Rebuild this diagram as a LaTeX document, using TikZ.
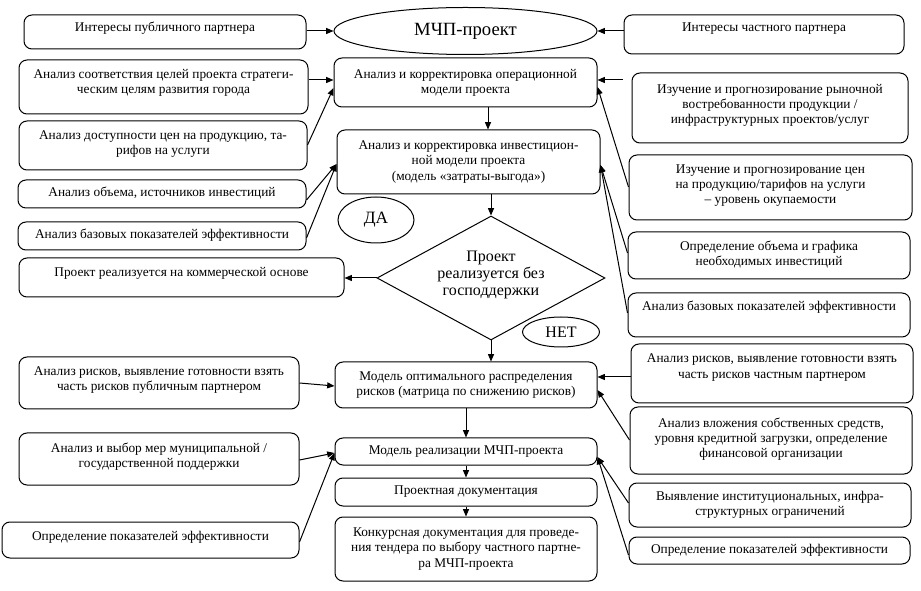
\documentclass[tikz,border=0pt]{standalone}
\usepackage{fontspec}
\setmainfont{Liberation Serif}
\usetikzlibrary{shapes.geometric,arrows.meta,calc}

\tikzset{
 bx/.style={draw, rounded corners=6pt, line width=0.75pt, inner sep=0pt},
 tx/.style={align=center, inner sep=0pt, font=\fontsize{10}{11.3}\selectfont},
 ar/.style={-{Triangle[length=5.5pt,width=4.5pt]}, line width=0.75pt},
 ov/.style={draw, ellipse, line width=0.75pt, inner sep=0pt},
}

\newcommand{\drawbox}[7]{%
 \pgfmathsetmacro\cx{(#2+#4)/2}%
 \pgfmathsetmacro\cy{(#3+#5)/2}%
 \pgfmathsetmacro\bw{(#4-#2)*0.75}%
 \pgfmathsetmacro\bh{(#5-#3)*0.75}%
 \node[bx, minimum width=\bw pt, minimum height=\bh pt] (#1) at (\cx,\cy) {};%
 \node[tx] (#1-t) at (\cx,{\cy+(#6)}) {#7};%
}

\begin{document}
\begin{tikzpicture}[x=0.75pt,y=-0.75pt]
\useasboundingbox (0,0) rectangle (921,591);

% left column
\drawbox{L0}{24}{15}{306}{49}{-4}{Интересы публичного партнера}
\drawbox{L1}{19}{60}{308}{114}{-4.5}{Анализ соответствия целей проекта стратеги-\\ческим целям развития города}
\drawbox{L2}{19}{121}{307}{170}{-1}{Анализ доступности цен на продукцию, та-\\рифов на услуги}
\drawbox{L3}{18}{180}{306}{208}{-1}{Анализ объема, источников инвестиций}
\drawbox{L4}{18}{222}{306}{250}{-1}{Анализ базовых показателей эффективности}
\drawbox{L5}{19}{258}{344}{297}{-4.5}{Проект реализуется на коммерческой основе}
\drawbox{L6}{19}{357}{299}{409}{-2.5}{Анализ рисков, выявление готовности взять\\часть рисков публичным партнером}
\drawbox{L7}{19}{433}{299}{485}{-2}{Анализ и выбор мер муниципальной /\\государственной поддержки}
\drawbox{L8}{2}{522}{299}{558}{-3}{Определение показателей эффективности}

% centre column
\node[ov, minimum width=263*0.75pt, minimum height=47*0.75pt, font=\fontsize{14}{16}\selectfont] (mchp) at (465.5,31) {МЧП-проект};
\drawbox{C1}{334}{58}{597}{107}{0}{Анализ и корректировка операционной\\модели проекта}
\drawbox{C2}{337}{130}{600}{194}{0}{Анализ и корректировка инвестицион-\\ной модели проекта\\(модель «затраты-выгода»)}
\node[ov, minimum width=76*0.75pt, minimum height=46*0.75pt, font=\fontsize{13}{15}\selectfont] (da) at (376,220) {ДА};
\node[draw, diamond, line width=0.75pt, inner sep=0pt, minimum width=228*0.75pt, minimum height=124*0.75pt] (dm) at (491,278) {};
\node[align=center, inner sep=0pt, font=\fontsize{12}{12.5}\selectfont] (dm-t) at (491,275) {Проект\\реализуется без\\господдержки};
\node[ov, minimum width=77*0.75pt, minimum height=30*0.75pt, font=\fontsize{12}{14}\selectfont] (net) at (561,332) {НЕТ};
\drawbox{C3}{335}{362}{597}{408}{0}{Модель оптимального распределения\\рисков (матрица по снижению рисков)}
\drawbox{C4}{335}{438}{597}{465}{0}{Модель реализации МЧП-проекта}
\drawbox{C5}{335}{478}{597}{506}{0}{Проектная документация}
\drawbox{C6}{335}{517}{597}{581}{0}{Конкурсная документация для проведе-\\ния тендера по выбору частного партне-\\ра МЧП-проекта}

% right column
\drawbox{R0}{624}{15}{904}{54}{-5.5}{Интересы частного партнера}
\drawbox{R1}{632}{73}{908}{143}{-3}{Изучение и прогнозирование рыночной\\востребованности продукции /\\инфраструктурных проектов/услуг}
\drawbox{R2}{629}{155}{912}{220}{-1.5}{Изучение и прогнозирование цен\\на продукцию/тарифов на услуги\\– уровень окупаемости}
\drawbox{R3}{628}{232}{910}{279}{-1}{Определение объема и графика\\необходимых инвестиций}
\drawbox{R4}{628}{293}{910}{337}{-8}{Анализ базовых показателей эффективности}
\drawbox{R5}{631}{344}{913}{403}{-6}{Анализ рисков, выявление готовности взять\\часть рисков частным партнером}
\drawbox{R6}{630}{407}{912}{474}{-1.5}{Анализ вложения собственных средств,\\уровня кредитной загрузки, определение\\финансовой организации}
\drawbox{R7}{629}{483}{911}{527}{0}{Выявление институциональных, инфра-\\структурных ограничений}
\drawbox{R8}{629}{537}{910}{564}{0}{Определение показателей эффективности}

% connectors: top
\draw[ar] (L0.east |- mchp.west) -- (mchp.west);
\draw[ar] (R0.west |- mchp.east) -- (mchp.east);

% left to centre
\draw[ar] (L1.east |- 0,80) -- (C1.west |- 0,80);
\draw[ar] (L2.east |- 0,145) -- (C1.west |- 0,88);
\draw[ar] (L3.east |- 0,200) -- (C2.west |- 0,164);
\draw[ar] (L4.east |- 0,238) -- (C2.west |- 0,164);
\draw[ar] (L6.east |- 0,383) -- (C3.west |- 0,386);
\draw[ar] (L7.east |- 0,460) -- (C4.west |- 0,453);
\draw[ar] (L8.east |- 0,542) -- (C4.west |- 0,453);

% right to centre
\draw[ar, shorten <=6.75pt] (R1.west |- 0,80) -- (C1.east |- 0,80);
\draw[ar] (R2.west |- 0,187) -- (C1.east |- 0,87);
\draw[ar] (R3.west |- 0,253) -- (C2.east |- 0,165);
\draw[ar] (R4.west |- 0,313) -- (C2.east |- 0,165);
\draw[ar] (R5.west |- 0,377) -- (C3.east |- 0,377);
\draw[ar] (R6.west |- 0,440) -- (C3.east |- 0,390);
\draw[ar] (R7.west |- 0,503) -- (C4.east |- 0,457);
\draw[ar] (R8.west |- 0,555) -- (C4.east |- 0,457);

% main flow
\draw[ar] (C1.south -| 488,0) -- (C2.north -| 488,0);
\draw[ar] (C2.south -| dm.north) -- (dm.north);
\draw[ar] (dm.west) -- (L5.east |- dm.west);
\draw[ar] (dm.south) -- (C3.north -| dm.south);
\draw[ar] (C3.south) -- (C4.north);
\draw[ar] (C4.south) -- (C5.north);
\draw[ar] (C5.south) -- (C6.north);
\end{tikzpicture}
\end{document}
